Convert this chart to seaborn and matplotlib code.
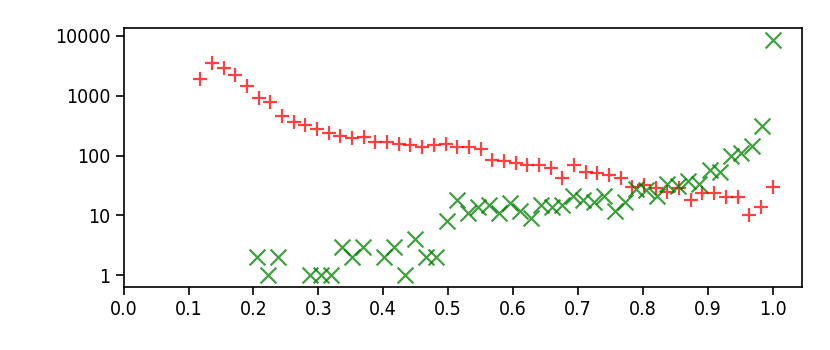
import numpy as np
import pandas as pd
import matplotlib
matplotlib.use("Agg")
import matplotlib.pyplot as plt
import seaborn as sns
from matplotlib.ticker import FixedLocator, FixedFormatter, NullLocator

# red "+" series: 50 bins, right edges of each bin
red_x = [0.118, 0.136, 0.154, 0.172, 0.19, 0.208, 0.226, 0.244, 0.262, 0.28,
         0.298, 0.316, 0.334, 0.352, 0.37, 0.388, 0.406, 0.424, 0.442, 0.46,
         0.478, 0.496, 0.514, 0.532, 0.55, 0.568, 0.586, 0.604, 0.622, 0.64,
         0.658, 0.676, 0.694, 0.712, 0.73, 0.748, 0.766, 0.784, 0.802, 0.82,
         0.838, 0.856, 0.874, 0.892, 0.91, 0.928, 0.946, 0.964, 0.982, 1.0]
red_y = [1900, 3500, 2900, 2200, 1450, 900, 800, 460, 370, 325,
         275, 240, 215, 195, 205, 170, 170, 155, 150, 140,
         150, 155, 138, 138, 128, 85, 80, 75, 70, 70,
         62, 42, 70, 54, 51, 48, 42, 30, 32, 29,
         25, 29, 18, 24, 24, 20, 20, 10, 14, 30]

# green "x" series (empty bins are left out)
green_x = [0.2062, 0.2224, 0.2386, 0.2872, 0.3034, 0.3196, 0.3358, 0.352,
           0.3682, 0.4006, 0.4168, 0.433, 0.4492, 0.4654, 0.4816, 0.4978,
           0.514, 0.5302, 0.5464, 0.5626, 0.5788, 0.595, 0.6112, 0.6274,
           0.6436, 0.6598, 0.676, 0.6922, 0.7084, 0.7246, 0.7408, 0.757,
           0.7732, 0.7894, 0.8056, 0.8218, 0.838, 0.8542, 0.8704, 0.8866,
           0.9028, 0.919, 0.9352, 0.9514, 0.9676, 0.9838, 1.0]
green_y = [2, 1, 2, 1, 1, 1, 3, 2,
           3, 2, 3, 1, 4, 2, 2, 8,
           18, 11, 14, 15, 11, 16, 12, 9,
           15, 14, 15, 21, 18, 17, 21, 12,
           17, 28, 27, 21, 34, 31, 38, 34,
           57, 54, 100, 110, 145, 310, 8500]

y_ticks = [1, 10, 100, 1000, 10000]
y_labels = ["1", "10", "100", "1000", "10000"]
x_ticks = [0.0, 0.1, 0.2, 0.3, 0.4, 0.5, 0.6, 0.7, 0.8, 0.9, 1.0]

sns.set_style("ticks")
plt.rcParams["font.family"] = ["DejaVu Sans"]
plt.rcParams["font.stretch"] = "condensed"

red = pd.DataFrame({"x": red_x, "count": red_y})
green = pd.DataFrame({"x": green_x, "count": green_y})

fig = plt.figure(figsize=(8.3, 3.5), dpi=100)
ax = fig.add_axes([0.149, 0.18, 0.817, 0.74])

sns.scatterplot(data=red, x="x", y="count", marker="+", color="red",
                s=110, linewidth=1.6, alpha=0.75, ax=ax)
sns.scatterplot(data=green, x="x", y="count", marker="x", color="green",
                s=130, linewidth=1.6, alpha=0.75, ax=ax)

ax.set_yscale("log")
ax.set_xlim(0, 1.045)
ax.set_ylim(0.64, 13500)
ax.yaxis.set_major_locator(FixedLocator(y_ticks))
ax.yaxis.set_major_formatter(FixedFormatter(y_labels))
ax.yaxis.set_minor_locator(NullLocator())
ax.set_xticks(x_ticks)
ax.set_xticklabels([f"{t:.1f}" for t in x_ticks])
ax.set_xlabel("")
ax.set_ylabel("")
ax.tick_params(labelsize=14, length=6, width=1.2, color="black",
               labelcolor="black")
for sp in ax.spines.values():
    sp.set_visible(True)
    sp.set_linewidth(1.2)
    sp.set_color("black")

fig.savefig("out.png", dpi=100)
